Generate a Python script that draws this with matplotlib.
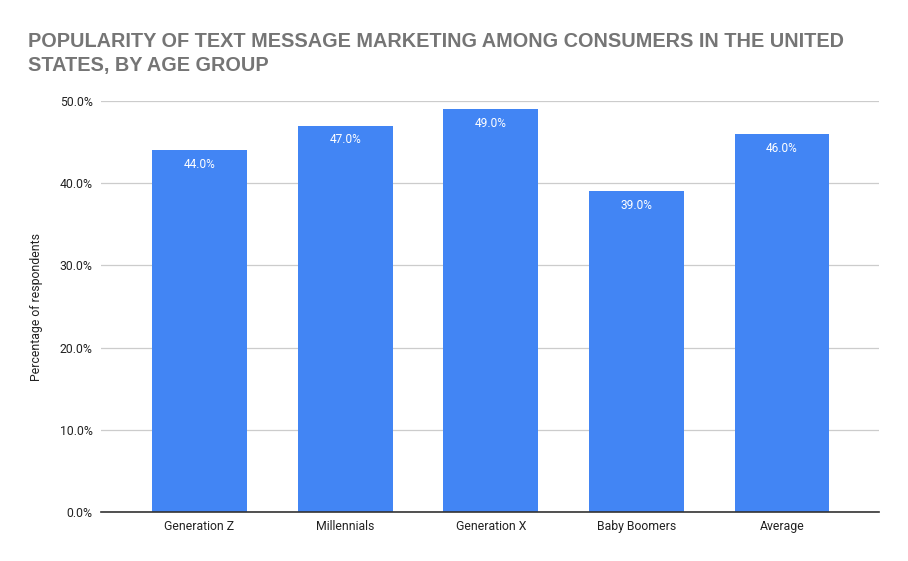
import numpy as np
import matplotlib.pyplot as plt
from matplotlib.ticker import FuncFormatter

#---chart data
groups = ["Generation Z", "Millennials", "Generation X", "Baby Boomers", "Average"]
share = [44.0, 47.0, 49.0, 39.0, 46.0]  # percent of respondents
yticks = [0, 10, 20, 30, 40, 50]
title_lines = ["POPULARITY OF TEXT MESSAGE MARKETING AMONG CONSUMERS IN THE UNITED",
               "STATES, BY AGE GROUP"]

plt.rcParams['font.family'] = ['Roboto', 'DejaVu Sans']

fig = plt.figure(figsize=(9.08, 5.61), dpi=100)
ax = fig.add_axes([0.1112, 0.0873, 0.857, 0.7327])

x = np.arange(len(groups))
bars = ax.bar(x, share, width=0.652, color='#4285f4', zorder=3)

for b, v in zip(bars, share):
    ax.annotate(f"{v:.1f}%", (b.get_x() + b.get_width() / 2, v),
                xytext=(0, -5.5), textcoords='offset points',
                ha='center', va='top', color='white', fontsize=8.6, zorder=4)

ax.set_xlim(-0.677, len(groups) - 1 + 0.667)
ax.set_ylim(0, 50)
ax.set_yticks(yticks)
ax.yaxis.set_major_formatter(FuncFormatter(lambda v, p: f"{v:.1f}%"))
ax.set_xticks(x)
ax.set_xticklabels(groups)

ax.grid(axis='y', color='#cccccc', linewidth=0.9, zorder=0)
for s in ['top', 'right', 'left']:
    ax.spines[s].set_visible(False)
ax.spines['bottom'].set_color('#333333')
ax.spines['bottom'].set_linewidth(1.2)
ax.spines['bottom'].set_zorder(5)
ax.tick_params(axis='both', length=0, labelsize=8.8, colors='#222222')
ax.tick_params(axis='x', pad=6)
ax.tick_params(axis='y', pad=6)

ax.set_ylabel("Percentage of respondents", fontsize=8.8, color='#222222', labelpad=12)

#---title, two lines placed by baseline
for k, line in enumerate(title_lines):
    fig.text(0.031, 1 - (47 + 24 * k) / 561, line, family=['Liberation Sans', 'DejaVu Sans'],
             fontsize=14.3, fontweight='bold', color='#757575', ha='left', va='baseline')

fig.savefig("out.png", dpi=100)
